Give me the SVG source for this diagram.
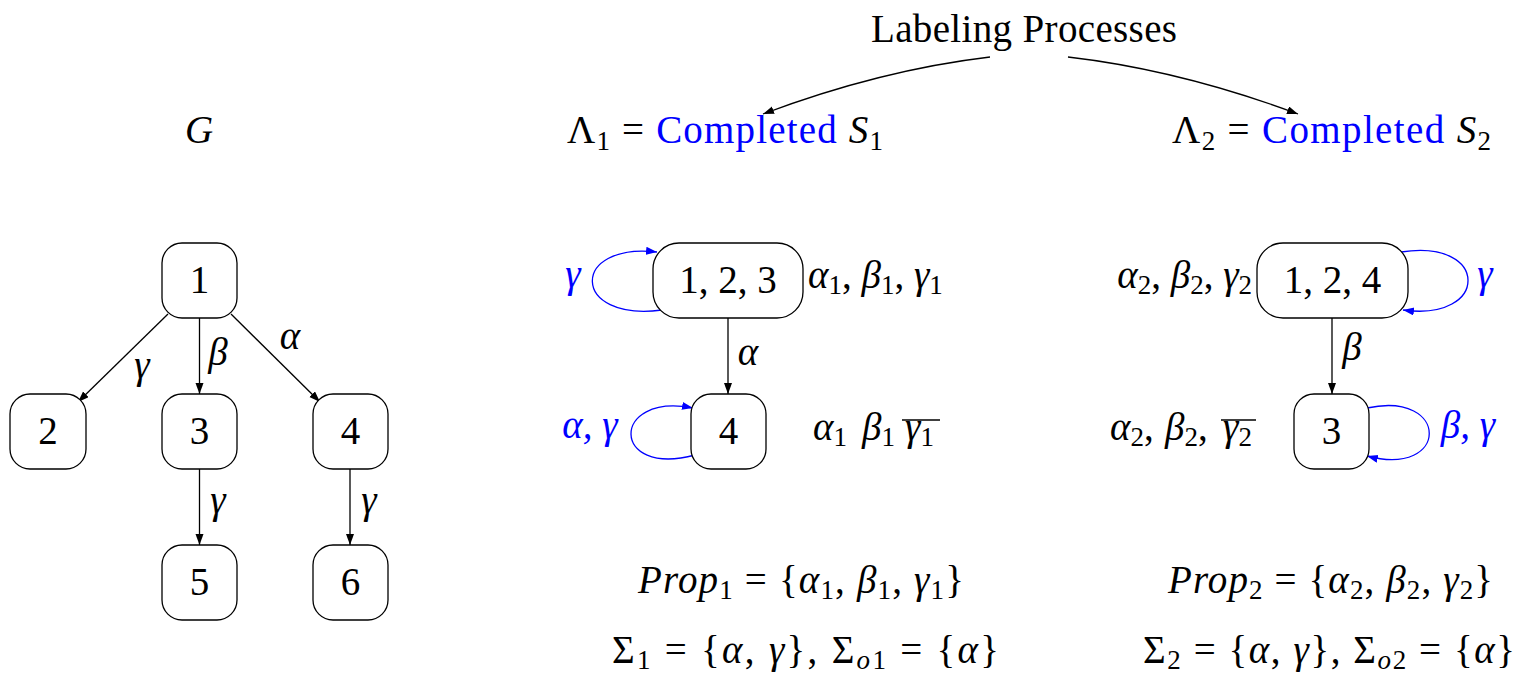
<svg xmlns="http://www.w3.org/2000/svg" width="1522" height="680" viewBox="0 0 1522 680">
<style>
text{font-family:"Liberation Serif","DejaVu Serif",serif;font-size:39px;fill:#000}
.i{font-style:italic}
.s{font-size:27px}
.b{fill:#0000ff}
.c{text-anchor:middle}
.e{text-anchor:end}
.node rect{fill:#fff;stroke:#000;stroke-width:1.3}
.edge{fill:none;stroke:#000;stroke-width:1.3;marker-end:url(#ab)}
.loop{fill:none;stroke:#0000ff;stroke-width:1.3;marker-end:url(#abl)}
.ol{stroke:#000;stroke-width:1.6}
</style>
<defs>
<marker id="ab" markerUnits="userSpaceOnUse" markerWidth="12" markerHeight="10" refX="11" refY="4" orient="auto"><path d="M0,0 L11,4 L0,8 z" fill="#000"/></marker>
<marker id="abl" markerUnits="userSpaceOnUse" markerWidth="12" markerHeight="10" refX="11" refY="4" orient="auto"><path d="M0,0 L11,4 L0,8 z" fill="#0000ff"/></marker>
</defs>
<rect width="1522" height="680" fill="#fff"/>

<!-- titles -->
<text class="c" x="1024" y="42" textLength="306">Labeling Processes</text>
<text class="i c" x="199" y="143">G</text>
<text x="567" y="143" textLength="316" lengthAdjust="spacing">Λ<tspan class="s" dy="7">1</tspan><tspan dy="-7"> = </tspan><tspan class="b">Completed</tspan> <tspan class="i">S</tspan><tspan class="s" dy="7">1</tspan></text>
<text x="1172" y="143" textLength="319" lengthAdjust="spacing">Λ<tspan class="s" dy="7">2</tspan><tspan dy="-7"> = </tspan><tspan class="b">Completed</tspan> <tspan class="i">S</tspan><tspan class="s" dy="7">2</tspan></text>

<g id="connectors">
<path class="edge" d="M990,57 Q880,70 763,114"/>
<path class="edge" d="M1068,57 Q1180,70 1298,114"/>
<line class="edge" x1="168" y1="314" x2="78" y2="402"/>
<line class="edge" x1="199.5" y1="318" x2="199.5" y2="394"/>
<line class="edge" x1="231" y1="314" x2="320" y2="402"/>
<line class="edge" x1="199.5" y1="469" x2="199.5" y2="545"/>
<line class="edge" x1="350" y1="469" x2="350" y2="545"/>
<line class="edge" x1="728" y1="318" x2="728" y2="394"/>
<line class="edge" x1="1332" y1="318" x2="1332" y2="394"/>
<path class="loop" d="M662,310 C570,322 570,242 657,252"/>
<path class="loop" d="M695,455 C610,478 610,392 693,408"/>
<path class="loop" d="M1401,252 C1490,238 1490,322 1403,310"/>
<path class="loop" d="M1367,408 C1450,390 1450,478 1367,456"/>
</g>

<g id="edge-labels">
<text class="i c" x="142" y="378">γ</text>
<text class="i c" x="218" y="365">β</text>
<text class="i c" x="290" y="349">α</text>
<text class="i c" x="218" y="513">γ</text>
<text class="i c" x="369" y="513">γ</text>
<text class="i c" x="748" y="365">α</text>
<text class="i c" x="1352" y="360">β</text>
<text class="i c b" x="573" y="287">γ</text>
<text class="i c b" x="590" y="438">α, γ</text>
<text class="i c b" x="1485" y="287">γ</text>
<text class="i c b" x="1468" y="438">β, γ</text>
</g>

<g id="g1"><g class="node"><rect x="162" y="243" width="75" height="75" rx="20"/></g><text class="c" x="199.5" y="293">1</text></g>
<g id="g2"><g class="node"><rect x="10" y="394" width="76" height="75" rx="20"/></g><text class="c" x="48" y="444">2</text></g>
<g id="g3"><g class="node"><rect x="162" y="394" width="75" height="75" rx="20"/></g><text class="c" x="199.5" y="444">3</text></g>
<g id="g4"><g class="node"><rect x="313" y="394" width="75" height="75" rx="20"/></g><text class="c" x="350.5" y="444">4</text></g>
<g id="g5"><g class="node"><rect x="162" y="545" width="75" height="75" rx="20"/></g><text class="c" x="199.5" y="595">5</text></g>
<g id="g6"><g class="node"><rect x="313" y="545" width="75" height="75" rx="20"/></g><text class="c" x="350.5" y="595">6</text></g>

<g id="s1-123"><g class="node"><rect x="653" y="243" width="150" height="75" rx="26"/></g><text class="c" x="728" y="293">1, 2, 3</text></g>
<g id="s1-4"><g class="node"><rect x="691" y="394" width="75" height="75" rx="20"/></g><text class="c" x="728.5" y="444">4</text></g>
<g id="s2-124"><g class="node"><rect x="1257" y="243" width="151" height="75" rx="26"/></g><text class="c" x="1332.5" y="293">1, 2, 4</text></g>
<g id="s2-3"><g class="node"><rect x="1294" y="394" width="75" height="75" rx="20"/></g><text class="c" x="1331.5" y="444">3</text></g>

<g id="state-labels">
<text x="808" y="288"><tspan class="i">α</tspan><tspan class="s" dy="6">1</tspan><tspan dy="-6">, </tspan><tspan class="i">β</tspan><tspan class="s" dy="6">1</tspan><tspan dy="-6">, </tspan><tspan class="i">γ</tspan><tspan class="s" dy="6">1</tspan></text>
<text class="e" x="1252" y="288"><tspan class="i">α</tspan><tspan class="s" dy="6">2</tspan><tspan dy="-6">, </tspan><tspan class="i">β</tspan><tspan class="s" dy="6">2</tspan><tspan dy="-6">, </tspan><tspan class="i">γ</tspan><tspan class="s" dy="6">2</tspan></text>
<text y="440"><tspan class="i" x="813">α</tspan><tspan class="s" dy="6">1</tspan><tspan class="i" x="862" dy="-6">β</tspan><tspan class="s" dy="6">1</tspan><tspan class="i" x="905" dy="-6">γ</tspan><tspan class="s" dy="6">1</tspan></text>
<line class="ol" x1="902" y1="420" x2="940" y2="420"/>
<text y="440"><tspan class="i" x="1110">α</tspan><tspan class="s" dy="6">2</tspan><tspan dy="-6">,</tspan><tspan class="i" x="1165">β</tspan><tspan class="s" dy="6">2</tspan><tspan dy="-6">,</tspan><tspan class="i" x="1223">γ</tspan><tspan class="s" dy="6">2</tspan></text>
<line class="ol" x1="1221" y1="420" x2="1256" y2="420"/>
</g>

<g id="sets">
<text x="638" y="593" textLength="326" lengthAdjust="spacing"><tspan class="i">Prop</tspan><tspan class="s" dy="6">1</tspan><tspan dy="-6"> = {</tspan><tspan class="i">α</tspan><tspan class="s" dy="6">1</tspan><tspan dy="-6">, </tspan><tspan class="i">β</tspan><tspan class="s" dy="6">1</tspan><tspan dy="-6">, </tspan><tspan class="i">γ</tspan><tspan class="s" dy="6">1</tspan><tspan dy="-6">}</tspan></text>
<text x="1168" y="593" textLength="325" lengthAdjust="spacing"><tspan class="i">Prop</tspan><tspan class="s" dy="6">2</tspan><tspan dy="-6"> = {</tspan><tspan class="i">α</tspan><tspan class="s" dy="6">2</tspan><tspan dy="-6">, </tspan><tspan class="i">β</tspan><tspan class="s" dy="6">2</tspan><tspan dy="-6">, </tspan><tspan class="i">γ</tspan><tspan class="s" dy="6">2</tspan><tspan dy="-6">}</tspan></text>
<text x="612" y="663" textLength="387" lengthAdjust="spacing">Σ<tspan class="s" dy="6">1</tspan><tspan dy="-6"> = {</tspan><tspan class="i">α</tspan>, <tspan class="i">γ</tspan>}, Σ<tspan class="s i" dy="6">o</tspan><tspan class="s" >1</tspan><tspan dy="-6"> = {</tspan><tspan class="i">α</tspan>}</text>
<text x="1143" y="663" textLength="372" lengthAdjust="spacing">Σ<tspan class="s" dy="6">2</tspan><tspan dy="-6"> = {</tspan><tspan class="i">α</tspan>, <tspan class="i">γ</tspan>}, Σ<tspan class="s i" dy="6">o</tspan><tspan class="s" >2</tspan><tspan dy="-6"> = {</tspan><tspan class="i">α</tspan>}</text>
</g>
</svg>
